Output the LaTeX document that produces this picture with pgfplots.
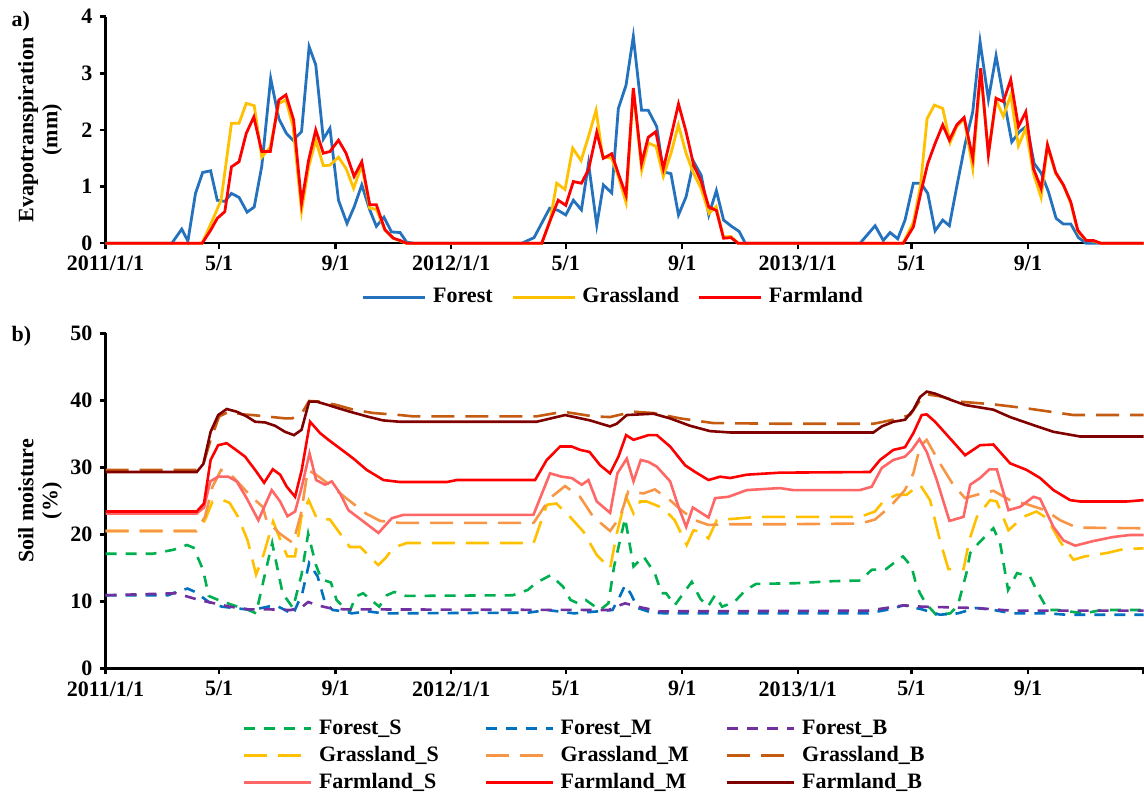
\documentclass[border=0pt]{standalone}
\usepackage{fontspec}
\setmainfont{Liberation Serif}
\usepackage{pgfplots}
\pgfplotsset{compat=1.18}
\definecolor{cForest}{RGB}{36,114,190}
\definecolor{cGrass}{RGB}{255,192,0}
\definecolor{cFarm}{RGB}{255,0,0}
\definecolor{cFS}{RGB}{0,176,80}
\definecolor{cFM}{RGB}{0,112,192}
\definecolor{cFB}{RGB}{112,48,160}
\definecolor{cGS}{RGB}{255,192,0}
\definecolor{cGM}{RGB}{247,150,70}
\definecolor{cGB}{RGB}{197,90,17}
\definecolor{cAS}{RGB}{255,102,102}
\definecolor{cAM}{RGB}{255,0,0}
\definecolor{cAB}{RGB}{128,0,0}
\newcommand\F{\fontsize{11}{12}\selectfont\bfseries}
\pgfplotsset{
  myaxis/.style={
    scale only axis, width=519pt,
    axis x line*=bottom, axis y line*=left,
    axis line style={line width=1.2pt, black},
    every tick/.style={line width=1.2pt, black},
    major tick length=3pt,
    tick align=outside,
    xmin=0, xmax=1096,
    clip=false,
    tick label style={font=\F},
    /pgf/number format/assume math mode=true,
    label style={font=\F},
    legend cell align=left,
    legend style={draw=none, fill=none, font=\F, inner sep=0pt,
      nodes={inner xsep=3.25pt, inner ysep=1.5pt, text height=8pt, text depth=2.5pt}},
  }
}
\tikzset{
  fdash/.style={line width=1.3pt, dash pattern=on 5.5pt off 4.5pt},
  gdash/.style={line width=1.3pt, dash pattern=on 11.5pt off 5.5pt},
  asol/.style={line width=1.3pt},
}
\begin{document}
\begin{tikzpicture}
\path[use as bounding box] (0,0) rectangle (572pt,-397.5pt);
\node[anchor=west, font=\F] at (2.3pt,-10.5pt) {a)};
\node[anchor=west, font=\F] at (2.3pt,-168pt) {b)};
\begin{axis}[myaxis, at={(52.75pt,-121.65pt)}, anchor=south west, height=113.3pt,
  ymin=0, ymax=4, ytick={0,1,2,3,4},
  xtick={0,120,243,365,486,609,731,851,974},
  xticklabels={2011/1/1,5/1,9/1,2012/1/1,5/1,9/1,2013/1/1,5/1,9/1},
  ylabel={Evapotranspiration\\(mm)},
  ylabel style={align=center, at={(axis description cs:-0.063,0.5)}, anchor=center},
  legend columns=3,
  legend style={at={(axis description cs:0.2466,-0.1774)}, anchor=north west},
  legend image code/.code={\draw[#1] (0pt,0pt) -- (31pt,0pt);},
  /tikz/every even column/.append style={column sep=6pt},
]
\addplot[cForest, line width=1.4pt] coordinates {
(0,0)(70,0)(80.5,0.25)(87,0.04)(95,0.88)(102.6,1.25)(111,1.28)(118,0.76)(126,0.74)(133,0.88)(141,0.81)(149.5,0.55)(157,0.64)(165,1.36)(174.4,2.91)(183,2.2)(191,1.94)(198,1.82)(207,1.97)(215,3.47)(222,3.15)(230,1.84)(237,2.03)(246,0.76)(255,0.35)(262.5,0.64)(270.6,1.03)(279,0.59)(286,0.3)(294,0.46)(302,0.2)(311,0.19)(318,0.02)(326,0)
(439.5,0)(452.5,0.1)(469,0.62)(478,0.58)(486,0.5)(494,0.76)(502.5,0.59)(510,1.41)(518.7,0.32)(525.7,1.03)(534.5,0.89)(541.5,2.38)(549.6,2.79)(557.3,3.65)(566,2.35)(573,2.35)(582,2.06)(589,1.26)(597,1.23)(605,0.5)(613,0.82)(621,1.44)(629,1.2)(637,0.5)(645,0.93)(652.6,0.41)(661,0.3)(669,0.21)(675.6,0)
(796.7,0)(812.6,0.31)(821.3,0.05)(828.4,0.19)(836.5,0.08)(844.2,0.41)(853,1.06)(861.1,1.06)(868.2,0.88)(875.9,0.22)(884,0.41)(891,0.31)(898.8,1.0)(907.6,1.75)(915.7,2.32)(923.4,3.56)(932.2,2.54)(940.3,3.31)(948,2.59)(956.9,1.79)(965,1.97)(972.8,2.07)(980.5,1.41)(987.9,1.24)(995.6,0.91)(1003.7,0.44)(1011.4,0.34)(1019.2,0.34)(1027.3,0.1)(1035.4,0)(1096,0)
};
\addlegendentry{Forest}
\addplot[cGrass, line width=1.4pt] coordinates {
(0,0)(102,0)(113,0.41)(122,0.76)(133,2.12)(141,2.12)(148.6,2.47)(157,2.43)(165,1.52)(174,1.7)(183,2.47)(190.5,2.53)(198,2.06)(207,0.57)(214.5,1.35)(222,1.82)(230,1.37)(237,1.38)(246,1.52)(254,1.32)(262,0.97)(270.6,1.38)(279,0.62)(286,0.6)(295,0.24)(304,0.09)(311,0.04)(318,0)
(460.6,0)(469.4,0.4)(476.4,1.06)(485.2,0.95)(493.3,1.68)(502.1,1.46)(509.9,1.88)(518,2.35)(525,1.53)(534.5,1.5)(541.5,1.18)(549.6,0.72)(557.3,2.71)(566.2,1.29)(573.2,1.77)(581.3,1.71)(589,1.18)(597.1,1.59)(604.9,2.09)(613,1.59)(620.7,1.24)(628.8,0.97)(637.3,0.53)(644.7,0.65)(652.4,0.11)(660.2,0.12)(668.2,0)
(842,0)(853,0.37)(860.4,1.0)(867.5,2.2)(875.2,2.44)(884,2.38)(891.8,1.78)(898.8,2.06)(906.6,2.2)(915.7,1.32)(924.1,3.03)(932.2,1.59)(940.3,2.53)(948,2.24)(955.8,2.62)(963.9,1.72)(971.7,2.03)(979.8,1.23)(987.9,0.81)(994.6,1.72)(1003.3,1.23)(1011.4,1.03)(1019.2,0.71)(1026.6,0.21)(1035.4,0.05)(1043.1,0.04)(1051,0)(1096,0)
};
\addlegendentry{Grassland}
\addplot[cFarm, line width=1.4pt] coordinates {
(0,0)(102,0)(111,0.23)(118,0.44)(126,0.56)(133,1.35)(141,1.44)(148.6,1.94)(156.6,2.23)(165,1.62)(174,1.62)(183,2.53)(190.5,2.62)(198.6,2.18)(207,0.71)(214.5,1.47)(222,2.0)(230,1.59)(237,1.62)(246,1.82)(254,1.59)(262.5,1.18)(270.6,1.44)(279,0.68)(286,0.68)(295,0.24)(304,0.09)(311,0.05)(318,0)
(460.6,0)(469,0.38)(478,0.76)(486,0.67)(494,1.09)(502.5,1.06)(510,1.3)(518.7,1.96)(525.7,1.5)(534.5,1.58)(541.5,1.23)(549.6,0.85)(557.3,2.74)(566,1.41)(573,1.87)(581,1.97)(589,1.32)(597,1.88)(605,2.46)(613,1.97)(621,1.38)(629,1.09)(637,0.64)(645,0.58)(652.6,0.09)(660.5,0.1)(668,0)
(842.5,0)(853,0.29)(861.1,0.91)(868.2,1.41)(875.9,1.76)(884,2.09)(891,1.82)(898.8,2.09)(906.6,2.22)(915.7,1.5)(924.1,3.09)(932.2,1.56)(940.3,2.56)(948,2.5)(955.8,2.89)(963.9,2.06)(971.7,2.32)(979.8,1.32)(987.9,0.97)(994.6,1.74)(1003.3,1.25)(1011.4,1.03)(1019.2,0.73)(1026.6,0.23)(1035.4,0.05)(1043.1,0.05)(1051,0)(1096,0)
};
\addlegendentry{Farmland}
\end{axis}
\begin{axis}[myaxis, at={(52.75pt,-334.15pt)}, anchor=south west, height=167.5pt,
  ymin=0, ymax=50, ytick={0,10,20,30,40,50},
  xtick={0,120,243,365,486,609,731,851,974,1096},
  xticklabels={2011/1/1,5/1,9/1,2012/1/1,5/1,9/1,2013/1/1,5/1,9/1,{}},
  ylabel={Soil moisture\\(\%)},
  ylabel style={align=center, at={(axis description cs:-0.063,0.5)}, anchor=center},
  legend columns=3,
  legend style={at={(axis description cs:0.132,-0.1388)}, anchor=north west},
  legend image code/.code={\draw[#1] (0pt,0pt) -- (33.5pt,0pt);},
  /tikz/every even column/.append style={column sep=7.5pt},
]
\addplot[cFS, fdash] coordinates {
(0,17.1)(50,17.1)(72,17.7)(86,18.4)(93,18.0)(103,14.7)(109,10.8)(119,10.2)(135,9.4)(151,8.7)(159,8.2)(167,13.2)(176,18.7)(187,11.2)(198,9.0)(207,14)(214,20.1)(222,15.5)(228,13.3)(238,12.8)(244,10.2)(252,9.0)(258,8.5)(264,10.7)(272,11.2)(283,9.9)(289,9.2)(297,10.9)(305,11.4)(317,10.8)(430,10.9)(446,11.7)(454,12.7)(470,13.9)(483,12.2)(491,10.2)(499,9.7)(507,10.2)(515,9.4)(522,8.7)(531,9.7)(537,15.2)(548.6,22.4)(551.5,20.1)(557.5,15.2)(568,16.7)(580,14.2)(587,11.2)(592,11.2)(601,9.4)(619,12.9)(628,10.4)(636,9.2)(643.5,10.9)(651,9.2)(664,9.9)(676,11.7)(687,12.6)(729,12.7)(767,13.0)(797,13.1)(809,14.7)(824,14.8)(835,16.0)(842,16.7)(851,15.2)(856,12.5)(860,11.2)(866,9.7)(877,8.0)(892,8.2)(900,9.4)(909,14.2)(913,17.2)(922,18.7)(937.5,20.9)(944.6,18.7)(953,11.7)(962.5,14.2)(976,13.7)(983,11.7)(995,8.7)(1006,8.7)(1033,8.2)(1052,8.7)(1096,8.7)
};
\addlegendentry{\makebox[72pt][l]{Forest\_S}}
\addplot[cFM, fdash] coordinates {
(0,10.9)(66,10.9)(74.5,11.4)(86.6,11.9)(94.7,11.4)(109,9.9)(123,9.2)(135,9.0)(155,8.7)(171.5,9.2)(179.5,9.4)(189.7,8.7)(197.8,8.0)(207.8,11.2)(215,15.7)(224,13.7)(232,9.7)(240,8.7)(252,8.5)(260,8.2)(277,8.5)(293,8.2)(446,8.3)(466.5,8.7)(494.7,8.2)(520,8.5)(535.3,8.7)(542.9,10.7)(548.6,12.4)(554.3,11.2)(562,9.0)(577,8.3)(592,8.2)(805,8.2)(824,8.7)(843,9.4)(862,8.8)(881,8.0)(900,8.2)(919,9.0)(938,8.7)(957,8.2)(995,8.2)(1014,8.0)(1096,8.0)
};
\addlegendentry{\makebox[72pt][l]{Forest\_M}}
\addplot[cFB, fdash] coordinates {
(0,10.9)(74.5,11.2)(86.6,10.7)(98.7,10.2)(114.9,9.7)(131,9.2)(151.3,8.8)(171.5,8.8)(195.8,8.7)(207.9,9.2)(214,9.9)(224,9.4)(236,9.0)(252,8.8)(531.4,8.7)(539,9.2)(548.6,9.7)(562,9.2)(584.7,8.5)(805,8.6)(843,9.4)(862,9.2)(919,9.0)(957,8.6)(1096,8.6)
};
\addlegendentry{\makebox[72pt][l]{Forest\_B}}
\addplot[cGS, gdash] coordinates {
(0,20.5)(96,20.5)(105,22.1)(113,24.9)(124,25.1)(131,24.7)(140,22.6)(150,19.1)(159,14.0)(167,17)(177,21.9)(186,18.7)(192,16.7)(200,16.7)(207,22.7)(214.5,25.1)(223,22.4)(237,22.2)(258,18.1)(269,18.1)(288,15.4)(296,16.5)(304,18.0)(318,18.7)(452,18.7)(466,24.4)(476,24.6)(490.5,22.6)(504.6,20.4)(518.7,16.9)(532.8,14.9)(539.8,20.1)(549.7,25.6)(557.5,23.1)(564.5,24.9)(571.5,24.9)(589,23.9)(601,22.1)(613.7,18.4)(620.8,20.6)(628,20.4)(636.6,19.4)(645.4,22.1)(670,22.4)(687.6,22.6)(796.6,22.6)(812.4,23.4)(821.2,24.9)(835.3,25.9)(845.9,25.9)(853,26.7)(860,27.4)(870.6,25.1)(881,19.1)(890,14.8)(906,14.8)(912,19.1)(920,22.6)(934,25.1)(941,24.9)(953.4,20.6)(969,22.6)(983,23.4)(994,22.4)(1008,18.9)(1022,16.2)(1034,16.7)(1057,17.2)(1075,17.8)(1096,17.9)
};
\addlegendentry{\makebox[72pt][l]{Grassland\_S}}
\addplot[cGM, gdash] coordinates {
(0,20.5)(96,20.5)(105,22.6)(113,27.1)(122,29.6)(131,29.1)(141,27.6)(154,25.6)(166,24.1)(170,22.1)(184,20.1)(198,18.7)(206.5,23.1)(213.6,29.6)(222.4,28.9)(236.5,27.4)(254,25.4)(275,23.1)(290,22.0)(311,21.7)(452,21.7)(469.4,25.4)(485.2,27.2)(501,25.6)(515,22.6)(532.8,20.5)(543.3,22.6)(552,26.4)(568,26.1)(580,26.7)(596,25.1)(608,23.6)(622.5,22.1)(636.6,21.4)(659.5,21.5)(712,21.5)(796.6,21.6)(812.4,22.2)(828.3,24.1)(844,26.6)(853,29.1)(860,33.1)(867,34.1)(881,30.6)(895,27.4)(907.6,25.4)(920,25.9)(937.5,26.5)(955,25.1)(972.7,24.5)(992,23.6)(1008,22.1)(1025.5,21.0)(1096,20.9)
};
\addlegendentry{\makebox[72pt][l]{Grassland\_M}}
\addplot[cGB, gdash] coordinates {
(0,29.6)(96,29.6)(103,30.3)(111,34.1)(120,37.6)(130.5,38.3)(144.6,37.9)(155,37.8)(169,37.6)(190,37.3)(197,37.3)(207.5,38.1)(215,39.9)(226.6,39.8)(244,39.3)(261.8,38.6)(283,38.1)(311,37.8)(325,37.6)(455,37.6)(483.4,38.3)(515,37.6)(532.7,37.5)(557.3,38.3)(578.5,38.1)(606.7,37.3)(641.9,36.6)(712,36.5)(810.8,36.5)(831.9,37.1)(849.5,37.8)(860,40.0)(867,40.9)(881,40.6)(902,39.8)(937.5,39.4)(972.7,38.8)(1022,37.8)(1096,37.8)
};
\addlegendentry{\makebox[72pt][l]{Grassland\_B}}
\addplot[cAS, asol] coordinates {
(0,23.1)(96.3,23.1)(104,24.0)(110.6,27.9)(119,28.6)(129.6,28.6)(138.5,27.9)(149,25.4)(161.4,22.1)(175.5,26.6)(184.4,24.9)(192.1,22.7)(200.2,23.4)(207.3,27.1)(215.4,32.1)(222.4,28.1)(231.9,27.4)(238.9,27.9)(247.7,26.1)(256.5,23.6)(270.6,22.1)(288.2,20.2)(302.3,22.4)(314.5,22.9)(451.8,22.9)(469.4,29.1)(481.7,28.6)(492.3,28.4)(502.9,27.4)(509.9,28.1)(518.7,24.9)(532.8,23.2)(540.5,29.1)(550.4,31.3)(557.5,27.9)(565.2,31.1)(573.3,30.8)(582.1,30.1)(596.2,27.9)(605,24.1)(613.1,21.1)(620.1,24.0)(636.7,22.5)(643.7,25.4)(657.8,25.6)(677.1,26.6)(712,26.9)(726,26.6)(796.6,26.6)(809,27.1)(819.6,29.9)(831.9,31.1)(844.2,31.6)(851.3,32.6)(859.4,34.2)(867.1,32.3)(877.7,28.1)(891.1,22.0)(905.9,22.6)(913,27.4)(923.4,28.4)(933.3,29.7)(941.1,29.7)(953.4,23.6)(965.7,24.1)(979.8,25.6)(986.8,25.3)(1000.9,21.1)(1011.4,19.1)(1023.8,18.3)(1043.1,19.0)(1064.2,19.6)(1081.8,19.9)(1096,19.9)
};
\addlegendentry{\makebox[72pt][l]{Farmland\_S}}
\addplot[cAM, asol] coordinates {
(0,23.4)(96.3,23.4)(104,24.6)(111,31.1)(119,33.3)(128,33.6)(136.8,32.7)(147.3,31.6)(158,29.6)(167.5,27.7)(176.6,29.7)(184.4,28.9)(191.4,27.1)(200.2,25.6)(207.2,29.6)(216,36.8)(226.6,35.1)(235.4,34.1)(247.7,32.8)(261.8,31.3)(275.9,29.6)(293.5,28.1)(311,27.8)(360.3,27.8)(370.9,28.1)(453.6,28.1)(465.9,31.1)(480,33.1)(492.3,33.1)(501.1,32.6)(511,32.3)(522.3,30.3)(532.8,29.1)(541.6,31.6)(549.7,34.8)(557.5,34.1)(573.3,34.8)(582.1,34.8)(596.2,33.1)(612,30.3)(622.6,29.3)(636.7,28.1)(649,28.6)(659.5,28.4)(677.1,28.9)(712.2,29.2)(807.3,29.3)(817.8,31.1)(831.9,32.6)(844.2,33.0)(853,35.1)(861.8,37.8)(867.1,37.9)(875.9,36.8)(891.8,34.3)(907.6,31.8)(923.4,33.3)(937.5,33.4)(955.1,30.6)(972.7,29.6)(986.8,28.4)(1000.9,26.6)(1018.5,25.1)(1029,24.9)(1078.3,24.9)(1096,25.1)
};
\addlegendentry{\makebox[72pt][l]{Farmland\_M}}
\addplot[cAB, asol] coordinates {
(0,29.3)(96.3,29.3)(103.3,30.5)(111,35.3)(119,37.8)(128,38.7)(138.5,38.3)(149,37.6)(158,36.8)(168.4,36.7)(179,36.2)(189.5,35.3)(199,34.8)(207,35.6)(215,39.8)(223,39.8)(235,39.3)(244,38.9)(258,38.3)(276,37.6)(293,37.0)(311,36.8)(455.3,36.8)(485.2,37.8)(511.6,37.0)(532.7,36.1)(539.8,36.5)(550.4,37.8)(578.5,38.0)(596.1,37.3)(617.2,36.2)(638.3,35.4)(659.5,35.2)(810.8,35.2)(819.6,36.1)(831.9,36.8)(844.2,37.1)(853,38.6)(860.1,40.5)(867.1,41.3)(875.9,41.0)(891.8,40.1)(907.6,39.3)(937.5,38.6)(955.1,37.5)(979.7,36.3)(1000.8,35.3)(1029,34.6)(1096,34.6)
};
\addlegendentry{\makebox[72pt][l]{Farmland\_B}}
\end{axis}
\end{tikzpicture}
\end{document}
